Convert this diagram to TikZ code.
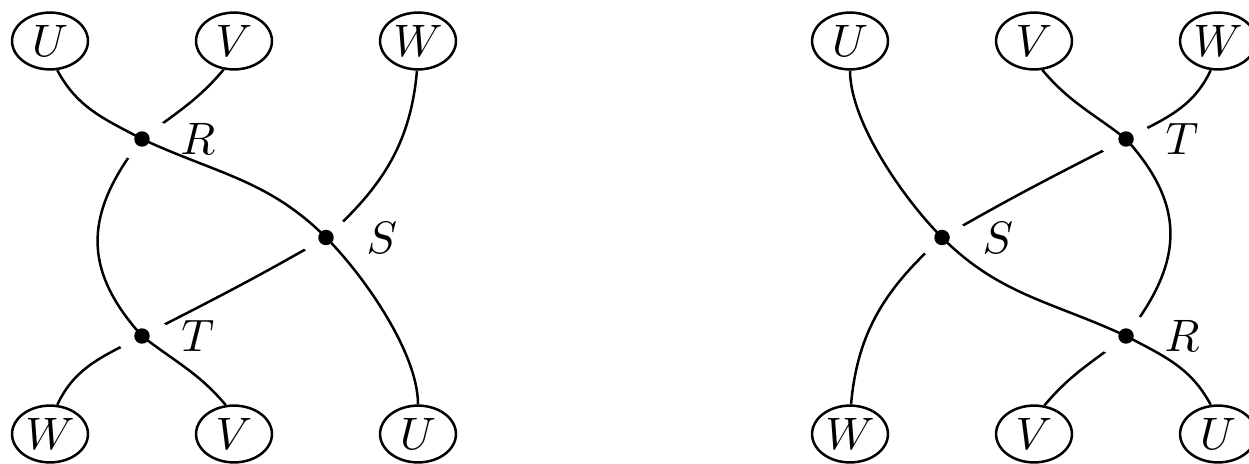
\documentclass[tikz,border=0pt]{standalone}
\usetikzlibrary{shapes.geometric}
\pgfdeclarelayer{bg}
\pgfsetlayers{bg,main}
\tikzset{
  vert/.style={ellipse, draw, line width=0.55pt, minimum width=16.7pt, minimum height=12.5pt, inner sep=0pt},
  jdot/.style={circle, fill=black, inner sep=0pt, minimum size=3.4pt},
  lab/.style={inner sep=0pt},
  strand/.style={line width=0.55pt},
  over/.style={strand, preaction={draw, white, line width=10.2pt}},
}
\begin{document}
\begin{tikzpicture}[x=0.22pt, y=-0.22pt]
\useasboundingbox (0,0) rectangle (1249,463);
% ---------- left diagram ----------
\node[vert] (Ut) at (50,41) {$U$};
\node[vert] (Vt) at (234,41) {$V$};
\node[vert] (Wt) at (418,41) {$W$};
\node[vert] (Wb) at (50,434) {$W$};
\node[vert] (Vb) at (234,434) {$V$};
\node[vert] (Ub) at (418,434) {$U$};
\node[jdot] (R) at (142,139) {};
\node[jdot] (S) at (326,237.5) {};
\node[jdot] (T) at (142,336) {};
\node[lab] (Rl) at ([xshift=12.3pt]R) {$R$};
\node[lab] (Sl) at ([xshift=12.3pt]S) {$S$};
\node[lab] (Tl) at ([xshift=12.3pt]T) {$T$};
% ---------- right diagram ----------
\node[vert] (rUt) at (850,41) {$U$};
\node[vert] (rVt) at (1034,41) {$V$};
\node[vert] (rWt) at (1218,41) {$W$};
\node[vert] (rWb) at (850,434) {$W$};
\node[vert] (rVb) at (1034,434) {$V$};
\node[vert] (rUb) at (1218,434) {$U$};
\node[jdot] (rT) at (1126,139) {};
\node[jdot] (rS) at (942,237.5) {};
\node[jdot] (rR) at (1126,336) {};
\node[lab] (rTl) at ([xshift=12.3pt]rT) {$T$};
\node[lab] (rSl) at ([xshift=12.3pt]rS) {$S$};
\node[lab] (rRl) at ([xshift=12.3pt]rR) {$R$};
\begin{pgfonlayer}{bg}
% left strands
\draw[strand] (Wt.-92) to[out=-95,in=42] (S.center) to[out=-150,in=27] (T.center) to[out=-152,in=65] (Wb.76);
\draw[over] (Vt.-110) to[out=-130,in=38] (R.center) to[out=-128,in=132,looseness=1.2] (T.center) to[out=-38,in=130] (Vb.106);
\draw[over] (Ut.-76) to[out=-62,in=152] (R.center) to[out=-25,in=135] (S.center) to[out=-45,in=90,looseness=0.7] (Ub.90);
% right strands
\draw[strand] (rWb.88) to[out=85,in=-138] (rS.center) to[out=30,in=-153] (rT.center) to[out=28,in=-115] (rWt.-104);
\draw[over] (rVb.70) to[out=50,in=-142] (rR.center) to[out=52,in=-48,looseness=1.2] (rT.center) to[out=142,in=-50] (rVt.-74);
\draw[over] (rUb.104) to[out=118,in=-28] (rR.center) to[out=155,in=-45] (rS.center) to[out=135,in=-90,looseness=0.7] (rUt.-90);
\end{pgfonlayer}
\end{tikzpicture}
\end{document}
